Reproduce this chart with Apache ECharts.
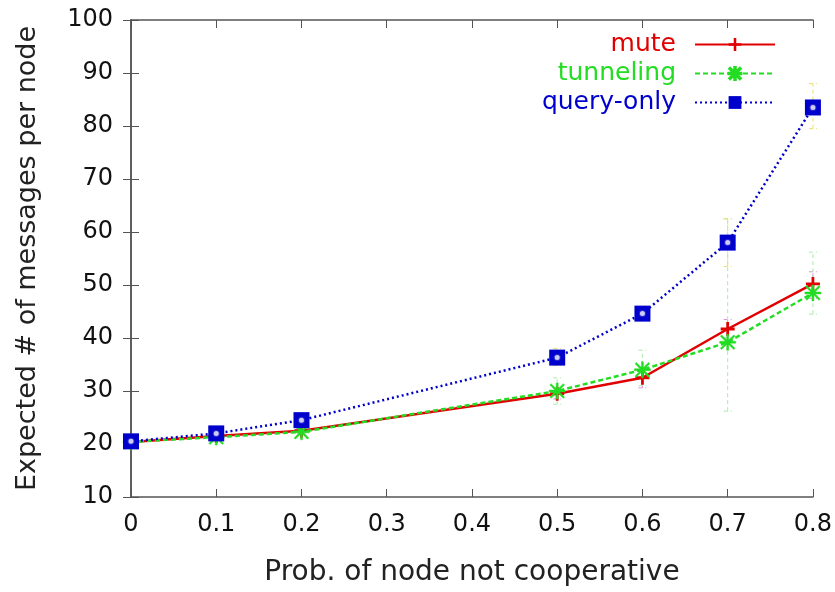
<!DOCTYPE html>
<html>
<head>
<meta charset="utf-8">
<script src="https://cdn.jsdelivr.net/npm/echarts@6/dist/echarts.min.js"></script>
<style>
  html, body { margin: 0; padding: 0; background: #fff; }
  #main { width: 835px; height: 592px; }
</style>
</head>
<body>
<div id="main"></div>
<script>
// x positions (prob. of node not cooperative)
var probs = [0, 0.1, 0.2, 0.5, 0.6, 0.7, 0.8];

// mean messages per node
var mute = [20.4, 21.5, 22.5, 29.5, 32.5, 41.7, 50.2];
var tunneling = [20.4, 21.3, 22.3, 30.0, 34.0, 39.2, 48.5];
var queryOnly = [20.5, 22.0, 24.5, 36.3, 44.6, 58.0, 83.5];

// error bar bounds
var muteLow = [20.2, 21.0, 22.0, 28.5, 30.6, 40.0, 47.5];
var muteHigh = [20.7, 22.0, 23.0, 30.5, 34.5, 43.5, 52.5];
var tunnelLow = [20.0, 20.8, 21.8, 27.5, 31.0, 26.2, 44.5];
var tunnelHigh = [20.9, 21.8, 22.8, 32.5, 37.7, 62.5, 56.2];
var queryLow = [20.2, 21.5, 23.5, 34.8, 43.6, 53.5, 79.5];
var queryHigh = [20.8, 22.5, 25.5, 38.0, 45.6, 62.5, 88.0];

var yTicks = [10, 20, 30, 40, 50, 60, 70, 80, 90, 100];

var RED = "#e00000";
var GREEN = "#22dd22";
var BLUE = "#0000cc";

var plusSym = "path://M4,0h2v4h4v2h-4v4h-2v-4h-4v-2h4z";
var starSym = "path://M4.4,0h1.2v4.4h4.4v1.2h-4.4v4.4h-1.2v-4.4h-4.4v-1.2h4.4z" +
  "M1.2,0.4l8.4,8.4l-0.8,0.8l-8.4,-8.4z M8.8,0.4l0.8,0.8l-8.4,8.4l-0.8,-0.8z";

function pairs(ys) {
  return probs.map(function (p, i) { return [p, ys[i]]; });
}

function errData(lo, hi) {
  return probs.map(function (p, i) { return [p, lo[i], hi[i]]; });
}

function errSeries(lo, hi, color) {
  return {
    type: "custom",
    silent: true,
    z: 1,
    data: errData(lo, hi),
    renderItem: function (params, api) {
      var a = api.coord([api.value(0), api.value(1)]);
      var b = api.coord([api.value(0), api.value(2)]);
      var w = 4;
      var st = { stroke: color, lineWidth: 1, lineDash: [4, 3] };
      return {
        type: "group",
        children: [
          { type: "line", shape: { x1: a[0], y1: a[1], x2: b[0], y2: b[1] }, style: st },
          { type: "line", shape: { x1: a[0] - w, y1: a[1], x2: a[0] + w, y2: a[1] }, style: st },
          { type: "line", shape: { x1: b[0] - w, y1: b[1], x2: b[0] + w, y2: b[1] }, style: st }
        ]
      };
    }
  };
}

var chart = echarts.init(document.getElementById("main"));
var font = "DejaVu Sans, sans-serif";

chart.setOption({
  animation: false,
  backgroundColor: "#fff",
  textStyle: { fontFamily: font },
  grid: { left: 131, right: 22, top: 20, bottom: 93 },
  legend: {
    orient: "vertical",
    right: 54,
    top: 25,
    align: "right",
    itemWidth: 80,
    itemHeight: 16,
    itemGap: 0,
    textStyle: { fontSize: 25, fontFamily: font, lineHeight: 29, padding: [0, 14, 0, 0] },
    data: [
      { name: "mute", textStyle: { color: RED } },
      { name: "tunneling", textStyle: { color: GREEN } },
      { name: "query-only", textStyle: { color: BLUE } }
    ]
  },
  xAxis: [{
    type: "value",
    min: 0,
    max: 0.8,
    interval: 0.1,
    name: "Prob. of node not cooperative",
    nameLocation: "middle",
    nameGap: 62,
    nameTextStyle: { fontSize: 28, color: "#222", fontFamily: font },
    axisLine: { lineStyle: { color: "#555", width: 1.5 } },
    axisTick: { inside: true, length: 8, lineStyle: { color: "#555" } },
    axisLabel: {
      fontSize: 24, color: "#111", margin: 16,
      formatter: function (v) { return String(Math.round(v * 10) / 10); }
    },
    splitLine: { show: false }
  }, {
    type: "value",
    position: "top",
    min: 0,
    max: 0.8,
    interval: 0.1,
    axisLine: { lineStyle: { color: "#555", width: 1.5 } },
    axisTick: { inside: true, length: 8, lineStyle: { color: "#555" } },
    axisLabel: { show: false },
    splitLine: { show: false }
  }],
  yAxis: [{
    type: "value",
    min: yTicks[0],
    max: yTicks[yTicks.length - 1],
    interval: 10,
    name: "Expected # of messages per node",
    nameLocation: "middle",
    nameGap: 90,
    nameTextStyle: { fontSize: 27, color: "#222", fontFamily: font },
    axisLine: { lineStyle: { color: "#555", width: 1.5 } },
    axisTick: { inside: true, length: 8, lineStyle: { color: "#555" } },
    axisLabel: { fontSize: 24, color: "#111", margin: 18 },
    splitLine: { show: false }
  }, {
    type: "value",
    position: "right",
    min: yTicks[0],
    max: yTicks[yTicks.length - 1],
    interval: 10,
    axisLine: { lineStyle: { color: "#555", width: 1.5 } },
    axisTick: { inside: true, length: 8, lineStyle: { color: "#555" } },
    axisLabel: { show: false },
    splitLine: { show: false }
  }],
  series: [
    errSeries(muteLow, muteHigh, "#e090e0"),
    errSeries(tunnelLow, tunnelHigh, "#a8eca8"),
    errSeries(queryLow, queryHigh, "#e8e070"),
    {
      name: "mute",
      type: "line",
      z: 3,
      data: pairs(mute),
      color: RED,
      symbol: plusSym,
      symbolSize: 14,
      showAllSymbol: true,
      lineStyle: { color: RED, width: 2.5 },
      itemStyle: { color: RED }
    },
    {
      name: "tunneling",
      type: "line",
      z: 4,
      data: pairs(tunneling),
      color: GREEN,
      symbol: starSym,
      symbolSize: 16,
      lineStyle: { color: GREEN, width: 2.5, type: [5, 3] },
      itemStyle: { color: GREEN, borderColor: GREEN, borderWidth: 0.5 }
    },
    {
      name: "query-only",
      type: "line",
      z: 5,
      data: pairs(queryOnly),
      color: BLUE,
      symbol: "rect",
      symbolSize: 16,
      lineStyle: { color: BLUE, width: 2.5, type: [2, 3] },
      itemStyle: { color: BLUE }
    },
    {
      type: "scatter",
      z: 6,
      silent: true,
      data: pairs(queryOnly),
      symbol: "emptyCircle",
      symbolSize: 7,
      itemStyle: { color: BLUE, borderColor: "#9aa6ee", borderWidth: 1 }
    }
  ]
});
</script>
</body>
</html>
